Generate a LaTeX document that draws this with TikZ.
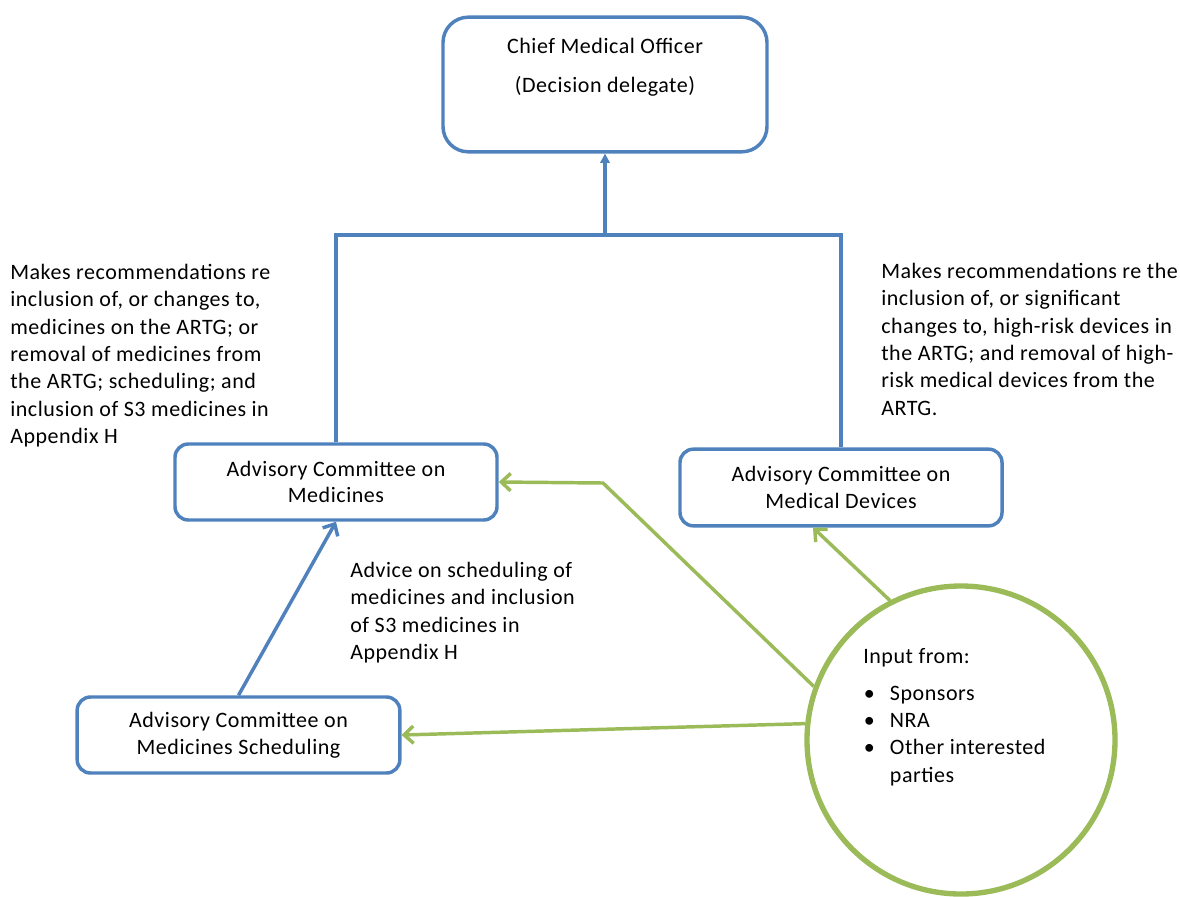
\documentclass[tikz,border=0pt]{standalone}
\usepackage{fontspec}
\setmainfont{Carlito}[LetterSpace=2.5]
\usetikzlibrary{arrows.meta}
\definecolor{boxblue}{HTML}{4F81BD}
\definecolor{inputgreen}{HTML}{9BBB59}
\begin{document}
\begin{tikzpicture}[x=0.75pt,y=-0.75pt,
  every node/.style={font=\fontsize{16.5}{20}\selectfont, text=black, inner sep=0pt},
  panel/.style={draw=boxblue, line width=2.6pt, rounded corners=10pt, align=center},
  notes/.style={align=left, anchor=north west, font=\fontsize{16.5}{20.5}\selectfont},
  blueline/.style={draw=boxblue, line width=2.6pt},
  greenline/.style={draw=inputgreen, line width=2.6pt, -{Straight Barb[length=7pt,width=13pt]}},
]
\useasboundingbox (0,0) rectangle (1180,896);

% decision delegate
\node[panel, rounded corners=19pt, minimum width=243pt, minimum height=101pt] (chief) at (605,84.5) {};
\node (chiefname) at (605,46) {Chief Medical Officer};
\node (chiefrole) at (605,86) {(Decision delegate)};

% committees
\node[panel, minimum width=241.5pt, minimum height=57pt] (acm) at (336,482) {Advisory Committee on\\Medicines};
\node[panel, minimum width=241.5pt, minimum height=57.5pt] (acmd) at (841,487.5) {Advisory Committee on\\Medical Devices};
\node[panel, minimum width=242pt, minimum height=57pt] (acms) at (238.5,735) {Advisory Committee on\\Medicines Scheduling};

% stakeholder input
\node[circle, draw=inputgreen, line width=4pt, minimum size=231pt] (input) at (961,740) {};
\node[notes] (inputtxt) at (863,648) {Input from:\\[7pt]
  \makebox[20pt][l]{\hspace{0.5pt}\textbullet}Sponsors\\
  \makebox[20pt][l]{\hspace{0.5pt}\textbullet}NRA\\
  \makebox[20pt][l]{\hspace{0.5pt}\textbullet}Other interested\\
  \makebox[20pt][l]{}parties};

% explanatory notes
\node[notes] (acmnote) at (10,264) {Makes recommendations re\\inclusion of, or changes to,\\medicines on the ARTG; or\\removal of medicines from\\the ARTG; scheduling; and\\inclusion of S3 medicines in\\Appendix H};
\node[notes] (acmdnote) at (881,263) {Makes recommendations re the\\inclusion of, or significant\\changes to, high-risk devices in\\the ARTG; and removal of high-\\risk medical devices from the\\ARTG.};
\node[notes] (acmsnote) at (350,562) {Advice on scheduling of\\medicines and inclusion\\of S3 medicines in\\Appendix H};

% reporting lines
\coordinate (junction) at (605,235);
\draw[blueline] (acm.north) |- (junction) -| (acmd.north);
\draw[blueline, -{Triangle[length=7pt,width=7pt]}] (junction) -- (chief.south);
\draw[blueline, -{Straight Barb[length=7pt,width=13pt]}] (acms.north) -- (acm.south);

% input connectors
\coordinate (bend) at (603,483);
\draw[greenline] (input.160) -- (bend) -- (acm.east);
\draw[greenline] (input.174) -- (acms.east);
\draw[greenline] (input.117.7) -- ([xshift=-21pt]acmd.south);
\end{tikzpicture}
\end{document}
